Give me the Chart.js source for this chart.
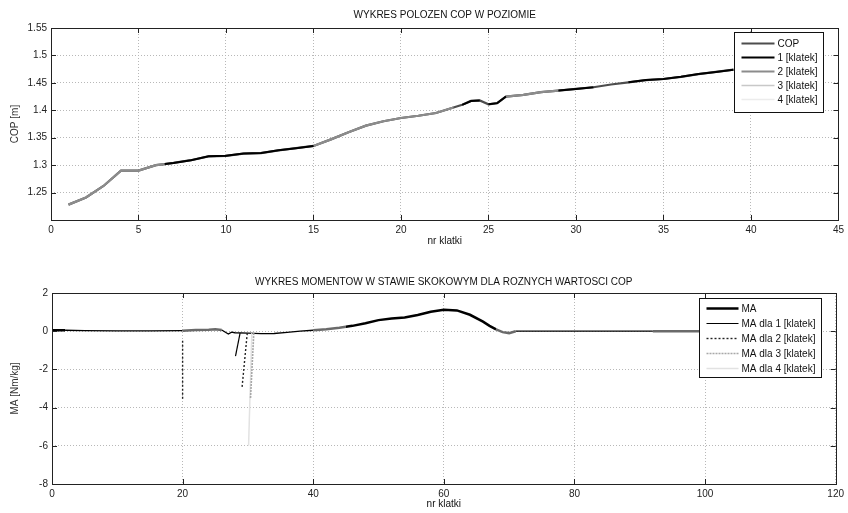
<!DOCTYPE html>
<html>
<head>
<meta charset="utf-8">
<script src="https://cdn.jsdelivr.net/npm/chart.js@4.4.0/dist/chart.umd.min.js"></script>
<style>
  body { margin: 0; background: #fff; width: 848px; height: 513px; position: relative; overflow: hidden; }
  canvas { position: absolute; left: 0; }
  #copChart { top: 0; }
  #maChart { top: 260px; }
</style>
</head>
<body>
<canvas id="copChart" width="848" height="250"></canvas>
<canvas id="maChart" width="848" height="253"></canvas>
<script>
// --- top plot: COP position (frames vs metres) ---
const copFrames = [1, 2, 3, 4, 4.5, 5, 6, 6.5, 7, 8, 9, 10, 11, 12, 13, 14, 15, 16, 17, 18, 19, 20, 21, 22, 23, 23.5, 24, 24.5, 25, 25.5, 26, 27, 28, 29, 30, 31, 32, 33, 34, 35, 36, 37, 38, 39];
const copValues = [1.228, 1.241, 1.262, 1.29, 1.29, 1.29, 1.3, 1.302, 1.304, 1.309, 1.316, 1.317, 1.321, 1.322, 1.327, 1.331, 1.335, 1.347, 1.36, 1.372, 1.38, 1.386, 1.39, 1.395, 1.405, 1.41, 1.417, 1.418, 1.411, 1.413, 1.425, 1.428, 1.433, 1.436, 1.439, 1.442, 1.447, 1.451, 1.455, 1.457, 1.461, 1.466, 1.47, 1.474];

// 1 [klatek] - black pieces (null = gap)
const cop1Frames = [6.5, 7, 8, 9, 10, 11, 12, 13, 14, 15, 15.01, 23.5, 24, 24.5, 24.51, 25, 25.5, 26, 26.01, 29, 30, 31, 31.01, 33, 34, 35, 36, 37, 38, 39];
const cop1Values = [1.302, 1.304, 1.309, 1.316, 1.317, 1.321, 1.322, 1.327, 1.331, 1.335, null, 1.41, 1.417, 1.418, null, 1.411, 1.413, 1.425, null, 1.436, 1.439, 1.442, null, 1.451, 1.455, 1.457, 1.461, 1.466, 1.47, 1.474];

// 2 [klatek] - grey pieces
const cop2Frames = [1, 2, 3, 4, 4.5, 5, 6, 6.5, 6.51, 15, 16, 17, 18, 19, 20, 21, 22, 23, 23.01, 26, 27, 28, 29];
const cop2Values = [1.228, 1.241, 1.262, 1.29, 1.29, 1.29, 1.3, 1.302, null, 1.335, 1.347, 1.36, 1.372, 1.38, 1.386, 1.39, 1.395, 1.405, null, 1.425, 1.428, 1.433, 1.436];

const copLabels = ['COP', '1 [klatek]', '2 [klatek]', '3 [klatek]', '4 [klatek]'];

// --- bottom plot: ankle moment MA ---
const maFrames = [0, 2, 5, 10, 15, 20, 22, 24, 25, 26, 27, 27.5, 28, 30, 32, 34, 36, 38, 40, 42, 44, 45, 46, 48, 50, 52, 54, 56, 58, 60, 62, 64, 66, 67, 68, 69, 70, 71, 75, 80, 92, 100, 104];
const maValues = [0.05, 0.05, 0.03, 0.02, 0.02, 0.03, 0.06, 0.08, 0.1, 0.06, -0.15, -0.05, -0.08, -0.1, -0.13, -0.12, -0.06, 0, 0.05, 0.1, 0.18, 0.23, 0.28, 0.42, 0.58, 0.66, 0.72, 0.85, 1.02, 1.12, 1.09, 0.86, 0.5, 0.28, 0.1, -0.05, -0.1, 0, 0, 0, 0, 0, 0];

const ma1Frames = [28.8, 28.1];
const ma1Values = [-0.1, -1.3];
const ma2Frames = [20, 20, 20.01, 29.9, 29.1];
const ma2Values = [-0.5, -3.6, null, -0.1, -2.95];
const ma3Frames = [30.9, 30.4];
const ma3Values = [-0.1, -3.5];
const ma4Frames = [30.6, 30.1];
const ma4Values = [-0.1, -6.0];

const maLabels = ['MA', 'MA dla 1 [klatek]', 'MA dla 2 [klatek]', 'MA dla 3 [klatek]', 'MA dla 4 [klatek]'];

// ranges of the MA curve drawn heavier / greyer
const maThick = [[0, 2], [45, 67.5]];
const maGrey = [[20, 26], [40, 45], [68, 71], [92, 100]];

const FONT = '"Liberation Sans", Arial, sans-serif';
Chart.defaults.font.family = FONT;
Chart.defaults.font.size = 10;
Chart.defaults.color = '#222';

const pts = (xs, ys) => xs.map((x, i) => ({ x, y: ys[i] }));
const inAny = (v, ranges) => ranges.some(r => v >= r[0] && v < r[1]);

// matlab style frame: box, inward ticks, title and legend
const matlabFrame = {
  id: 'matlabFrame',
  afterDatasetsDraw(chart, args, o) {
    const { ctx, chartArea: a, scales: { x, y } } = chart;
    ctx.save();
    ctx.strokeStyle = '#222';
    ctx.lineWidth = 1;
    ctx.setLineDash([]);
    const seg = (x1, y1, x2, y2) => { ctx.beginPath(); ctx.moveTo(x1, y1); ctx.lineTo(x2, y2); ctx.stroke(); };
    x.ticks.forEach(t => {
      const px = Math.round(x.getPixelForValue(t.value)) + 0.5;
      seg(px, a.bottom, px, a.bottom - 5);
      seg(px, a.top, px, a.top + 5);
    });
    y.ticks.forEach(t => {
      const py = Math.round(y.getPixelForValue(t.value)) + 0.5;
      seg(a.left, py, a.left + 5, py);
      seg(a.right, py, a.right - 5, py);
    });
    ctx.strokeRect(Math.round(a.left) + 0.5, Math.round(a.top) + 0.5, Math.round(a.width), Math.round(a.height));

    // title
    ctx.fillStyle = '#111';
    ctx.font = '10px ' + FONT;
    ctx.textAlign = 'center';
    ctx.textBaseline = 'middle';
    ctx.fillText(o.title, (a.left + a.right) / 2, o.titleY);

    // legend
    const L = o.legend;
    const sets = chart.data.datasets;
    const textW = Math.max(...sets.map(d => ctx.measureText(d.label).width));
    const w = Math.round(L.pad + L.sample + 3 + textW + 6);
    const bx = Math.round(a.right - L.right - w) + 0.5;
    const by = Math.round(a.top + L.top) + 0.5;
    ctx.fillStyle = '#fff';
    ctx.fillRect(bx, by, w, L.height);
    ctx.strokeStyle = '#111';
    ctx.strokeRect(bx, by, w, L.height);
    ctx.textAlign = 'left';
    sets.forEach((d, i) => {
      const ry = by + L.rowFirst + i * L.rowGap;
      ctx.strokeStyle = d.borderColor;
      ctx.lineWidth = d.borderWidth;
      ctx.setLineDash(d.borderDash || []);
      seg(bx + L.pad, ry, bx + L.pad + L.sample, ry);
      ctx.setLineDash([]);
      ctx.fillStyle = '#111';
      ctx.fillText(d.label, bx + L.pad + L.sample + 3, ry + 0.5);
    });
    ctx.restore();
  }
};

function axes(xMin, xMax, xStep, yMin, yMax, yStep, yTitle, yWidth, xHeight, yFmt) {
  const grid = { color: '#b8b8b8', lineWidth: 1, drawTicks: false };
  return {
    x: {
      type: 'linear', min: xMin, max: xMax,
      grid, border: { display: false, dash: [1, 2] },
      ticks: { stepSize: xStep, autoSkip: false, maxRotation: 0, padding: 4, color: '#222' },
      title: { display: true, text: 'nr klatki', color: '#111', padding: { top: 0, bottom: 3 } },
      afterFit: s => { s.height = xHeight; }
    },
    y: {
      min: yMin, max: yMax,
      grid, border: { display: false, dash: [1, 2] },
      ticks: { stepSize: yStep, padding: 4, color: '#222', callback: yFmt },
      title: { display: true, text: yTitle, color: '#333', padding: { top: 9, bottom: 0 } },
      afterFit: s => { s.width = yWidth; }
    }
  };
}

new Chart(document.getElementById('copChart'), {
  type: 'line',
  data: {
    datasets: [
      { label: copLabels[0], data: pts(copFrames, copValues), borderColor: '#4d4d4d', borderWidth: 2.2, order: 3 },
      { label: copLabels[1], data: pts(cop1Frames, cop1Values), borderColor: '#000', borderWidth: 2, order: 1 },
      { label: copLabels[2], data: pts(cop2Frames, cop2Values), borderColor: '#8c8c8c', borderWidth: 2.2, order: 2 },
      { label: copLabels[3], data: [], borderColor: '#c8c8c8', borderWidth: 1.5, order: 4 },
      { label: copLabels[4], data: [], borderColor: '#ececec', borderWidth: 1.5, order: 5 }
    ]
  },
  options: {
    responsive: false, animation: false, events: [],
    layout: { padding: { top: 28, right: 9, left: 0, bottom: 0 } },
    elements: { point: { radius: 0 }, line: { tension: 0 } },
    plugins: {
      legend: { display: false }, tooltip: { enabled: false },
      matlabFrame: {
        title: 'WYKRES POLOZEN COP W POZIOMIE', titleY: 15,
        legend: { right: 15, top: 4, pad: 7, sample: 33, rowFirst: 11, rowGap: 14, height: 80 }
      }
    },
    scales: axes(0, 45, 5, 1.2, 1.55, 0.05, 'COP [m]', 51, 30,
      v => (v < 1.2001 ? '' : +v.toFixed(2)))
  },
  plugins: [matlabFrame]
});

new Chart(document.getElementById('maChart'), {
  type: 'line',
  data: {
    datasets: [
      {
        label: maLabels[0], data: pts(maFrames, maValues), borderColor: '#000', borderWidth: 2.5, order: 5,
        segment: {
          borderWidth: c => (inAny(c.p0.parsed.x, maThick) || inAny(c.p0.parsed.x, maGrey) ? 2.5 : 1.3),
          borderColor: c => (inAny(c.p0.parsed.x, maGrey) ? '#6a6a6a' : '#000')
        }
      },
      { label: maLabels[1], data: pts(ma1Frames, ma1Values), borderColor: '#000', borderWidth: 1.2, order: 1 },
      { label: maLabels[2], data: pts(ma2Frames, ma2Values), borderColor: '#222', borderWidth: 1.4, borderDash: [2, 2], order: 2 },
      { label: maLabels[3], data: pts(ma3Frames, ma3Values), borderColor: '#a8a8a8', borderWidth: 1.6, borderDash: [2, 1], order: 3 },
      { label: maLabels[4], data: pts(ma4Frames, ma4Values), borderColor: '#e2e2e2', borderWidth: 1.5, order: 4 }
    ]
  },
  options: {
    responsive: false, animation: false, events: [],
    layout: { padding: { top: 33, right: 8, left: 0, bottom: 0 } },
    elements: { point: { radius: 0 }, line: { tension: 0 } },
    plugins: {
      legend: { display: false }, tooltip: { enabled: false },
      matlabFrame: {
        title: 'WYKRES MOMENTOW W STAWIE SKOKOWYM DLA ROZNYCH WARTOSCI COP', titleY: 22,
        legend: { right: 15, top: 5, pad: 7, sample: 32, rowFirst: 10, rowGap: 15, height: 79 }
      }
    },
    scales: axes(0, 120, 20, -8, 2, 2, 'MA [Nm/kg]', 52, 29, v => v)
  },
  plugins: [matlabFrame]
});
</script>
</body>
</html>
